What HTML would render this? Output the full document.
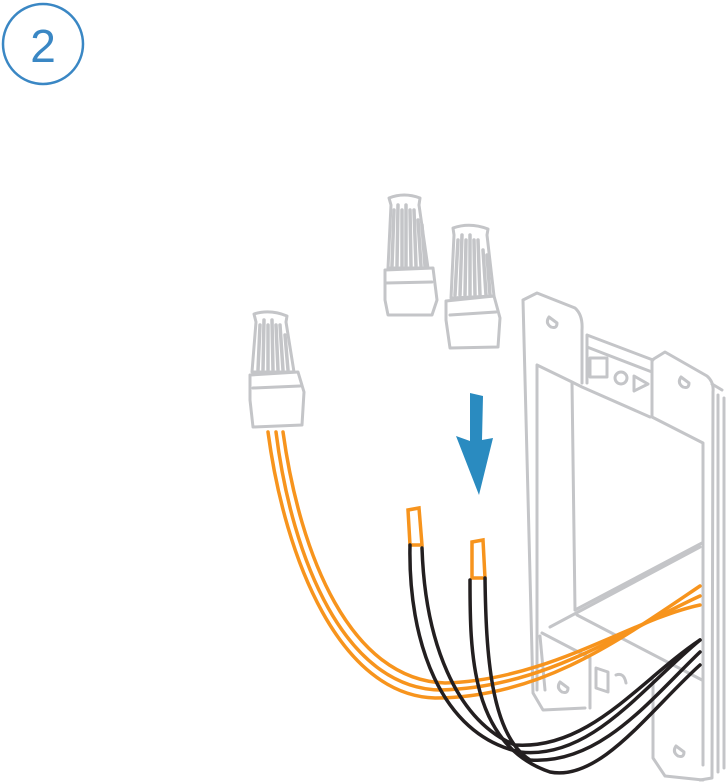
<!DOCTYPE html>
<html><head><meta charset="utf-8"><style>
html,body{margin:0;padding:0;background:#fff;width:727px;height:782px;overflow:hidden}
svg{display:block}
</style></head><body>
<svg width="727" height="782" viewBox="0 0 727 782" xmlns="http://www.w3.org/2000/svg">
<circle cx="43" cy="44" r="40" fill="none" stroke="#3a87c4" stroke-width="2.5"/>
<text x="43" y="62" text-anchor="middle" font-family="Liberation Sans, sans-serif" font-size="46" font-weight="300" fill="#3a87c4">2</text>

<g fill="none" stroke="#c4c5c8" stroke-width="3" stroke-linejoin="round" stroke-linecap="round">
<!-- connector A -->
<path d="M389 198 Q404 192 420 198 L419 205 L428 268 L388 268 L391 205 Z"/>
<path d="M385 270 L433 268 L437 300 L432 315 L388 315 L385 300 Z"/>
<path d="M386 283 L432 282"/>
<g stroke-width="3.5"><path d="M394 210 L392 266 M398 205 L397 266 M402 210 L402 266 M406 205 L406 266 M410 210 L411 266 M414 210 L416 266 M418 220 L421 266 M422 225 L425 266"/></g>
<!-- connector B -->
<path d="M453 228 Q470 222 488 229 L487 235 L494 296 L451 298 L454 235 Z"/>
<path d="M446 301 L494 296 L500 318 L498 347 L450 348 L446 320 Z"/>
<path d="M450 315 L496 312"/>
<g stroke-width="3.5"><path d="M458 240 L455 295 M462 235 L460 295 M466 240 L465 295 M470 235 L470 295 M474 240 L475 295 M478 240 L480 295 M483 250 L486 295 M487 255 L490 295"/></g>
<!-- connector C -->
<path d="M254 314 Q270 309 287 316 L286 322 L294 372 L252 372 L256 322 Z"/>
<path d="M250 375 L298 372 L304 392 L302 425 L253 427 L250 400 Z"/>
<path d="M253 388 L300 386"/>
<g stroke-width="3.5"><path d="M260 325 L258 370 M264 320 L263 370 M268 325 L268 370 M272 320 L273 370 M276 325 L278 370 M280 325 L283 370 M285 335 L288 370"/></g>

<!-- box left plate -->
<path d="M523 300 L537 293 L575 308 Q583 315 582 330 L582 383 M523 300 L533 693 L543 710 L585 708"/>
<path d="M537 365 L537 690 M537 365 L572 382 L575 610 M572 382 L582 387 L650 417"/>
<path d="M549 317 q-4 6 2 10 q6 2 6 -4 z"/>
<!-- rails -->
<path d="M587 335 L653 360 M587 347 L652 372 M587 335 L587 383"/>
<rect x="590" y="358" width="17" height="19"/>
<circle cx="621" cy="378" r="6"/>
<path d="M634 376 L648 384 L634 391 Z"/>
<!-- right plate -->
<path d="M652 360 L652 417 L703 443 L703 765 M652 360 L665 352 L707 376 Q714 382 713 392 L712 778 L700 780"/>
<path d="M718 395 L718 772 M724 398 L724 768 M712 384 L722 390"/>
<path d="M681 377 q-4 6 2 10 q6 2 6 -4 z"/>
<!-- back panel & floor -->
<path d="M575 610 L702 543 M550 627 L700 547 M577 615 L702 680 M542 633 L590 658 L590 708"/>
<path d="M540 636 L545 690"/>
<path d="M653 680 L653 758 L665 776 L703 780"/>
<path d="M676 746 q-4 6 2 10 q6 2 6 -4 z"/>
<path d="M560 682 q-4 6 2 10 q6 2 6 -4 z"/>
<path d="M596 668 L608 672 L608 692 L596 688 Z"/>
<path d="M616 675 q8 -3 10 8"/>
</g>

<!-- arrow -->
<path d="M470 393 L483 396 L482 440 L493 438 L479 495 L456 436 L470 441 Z" fill="#2a8bc0"/>

<!-- orange wires -->
<g fill="none" stroke="#f7941d" stroke-width="3.5" stroke-linecap="round">
<path d="M268 432 C285 560 340 695 435 698 C540 698 620 640 700 586"/>
<path d="M276 432 C292 560 345 688 440 690 C545 688 625 630 700 596"/>
<path d="M283 432 C300 555 350 680 445 683 C550 680 630 620 700 605"/>
<path d="M410 545 L408 510 L419 508 L422 545 Z"/>
<path d="M472 578 L472 542 L483 540 L485 578 Z"/>
</g>
<!-- black wires -->
<g fill="none" stroke="#231f20" stroke-width="3.5" stroke-linecap="round">
<path d="M410 545 C408 640 440 735 520 752 C590 760 640 690 700 640"/>
<path d="M422 548 C425 640 455 720 515 745 C590 750 640 680 700 640"/>
<path d="M470 580 C470 650 470 745 550 772 C600 782 650 710 700 665"/>
<path d="M485 578 C486 650 490 735 530 760 C600 765 650 700 700 652"/>
</g>
</svg>
</body></html>
